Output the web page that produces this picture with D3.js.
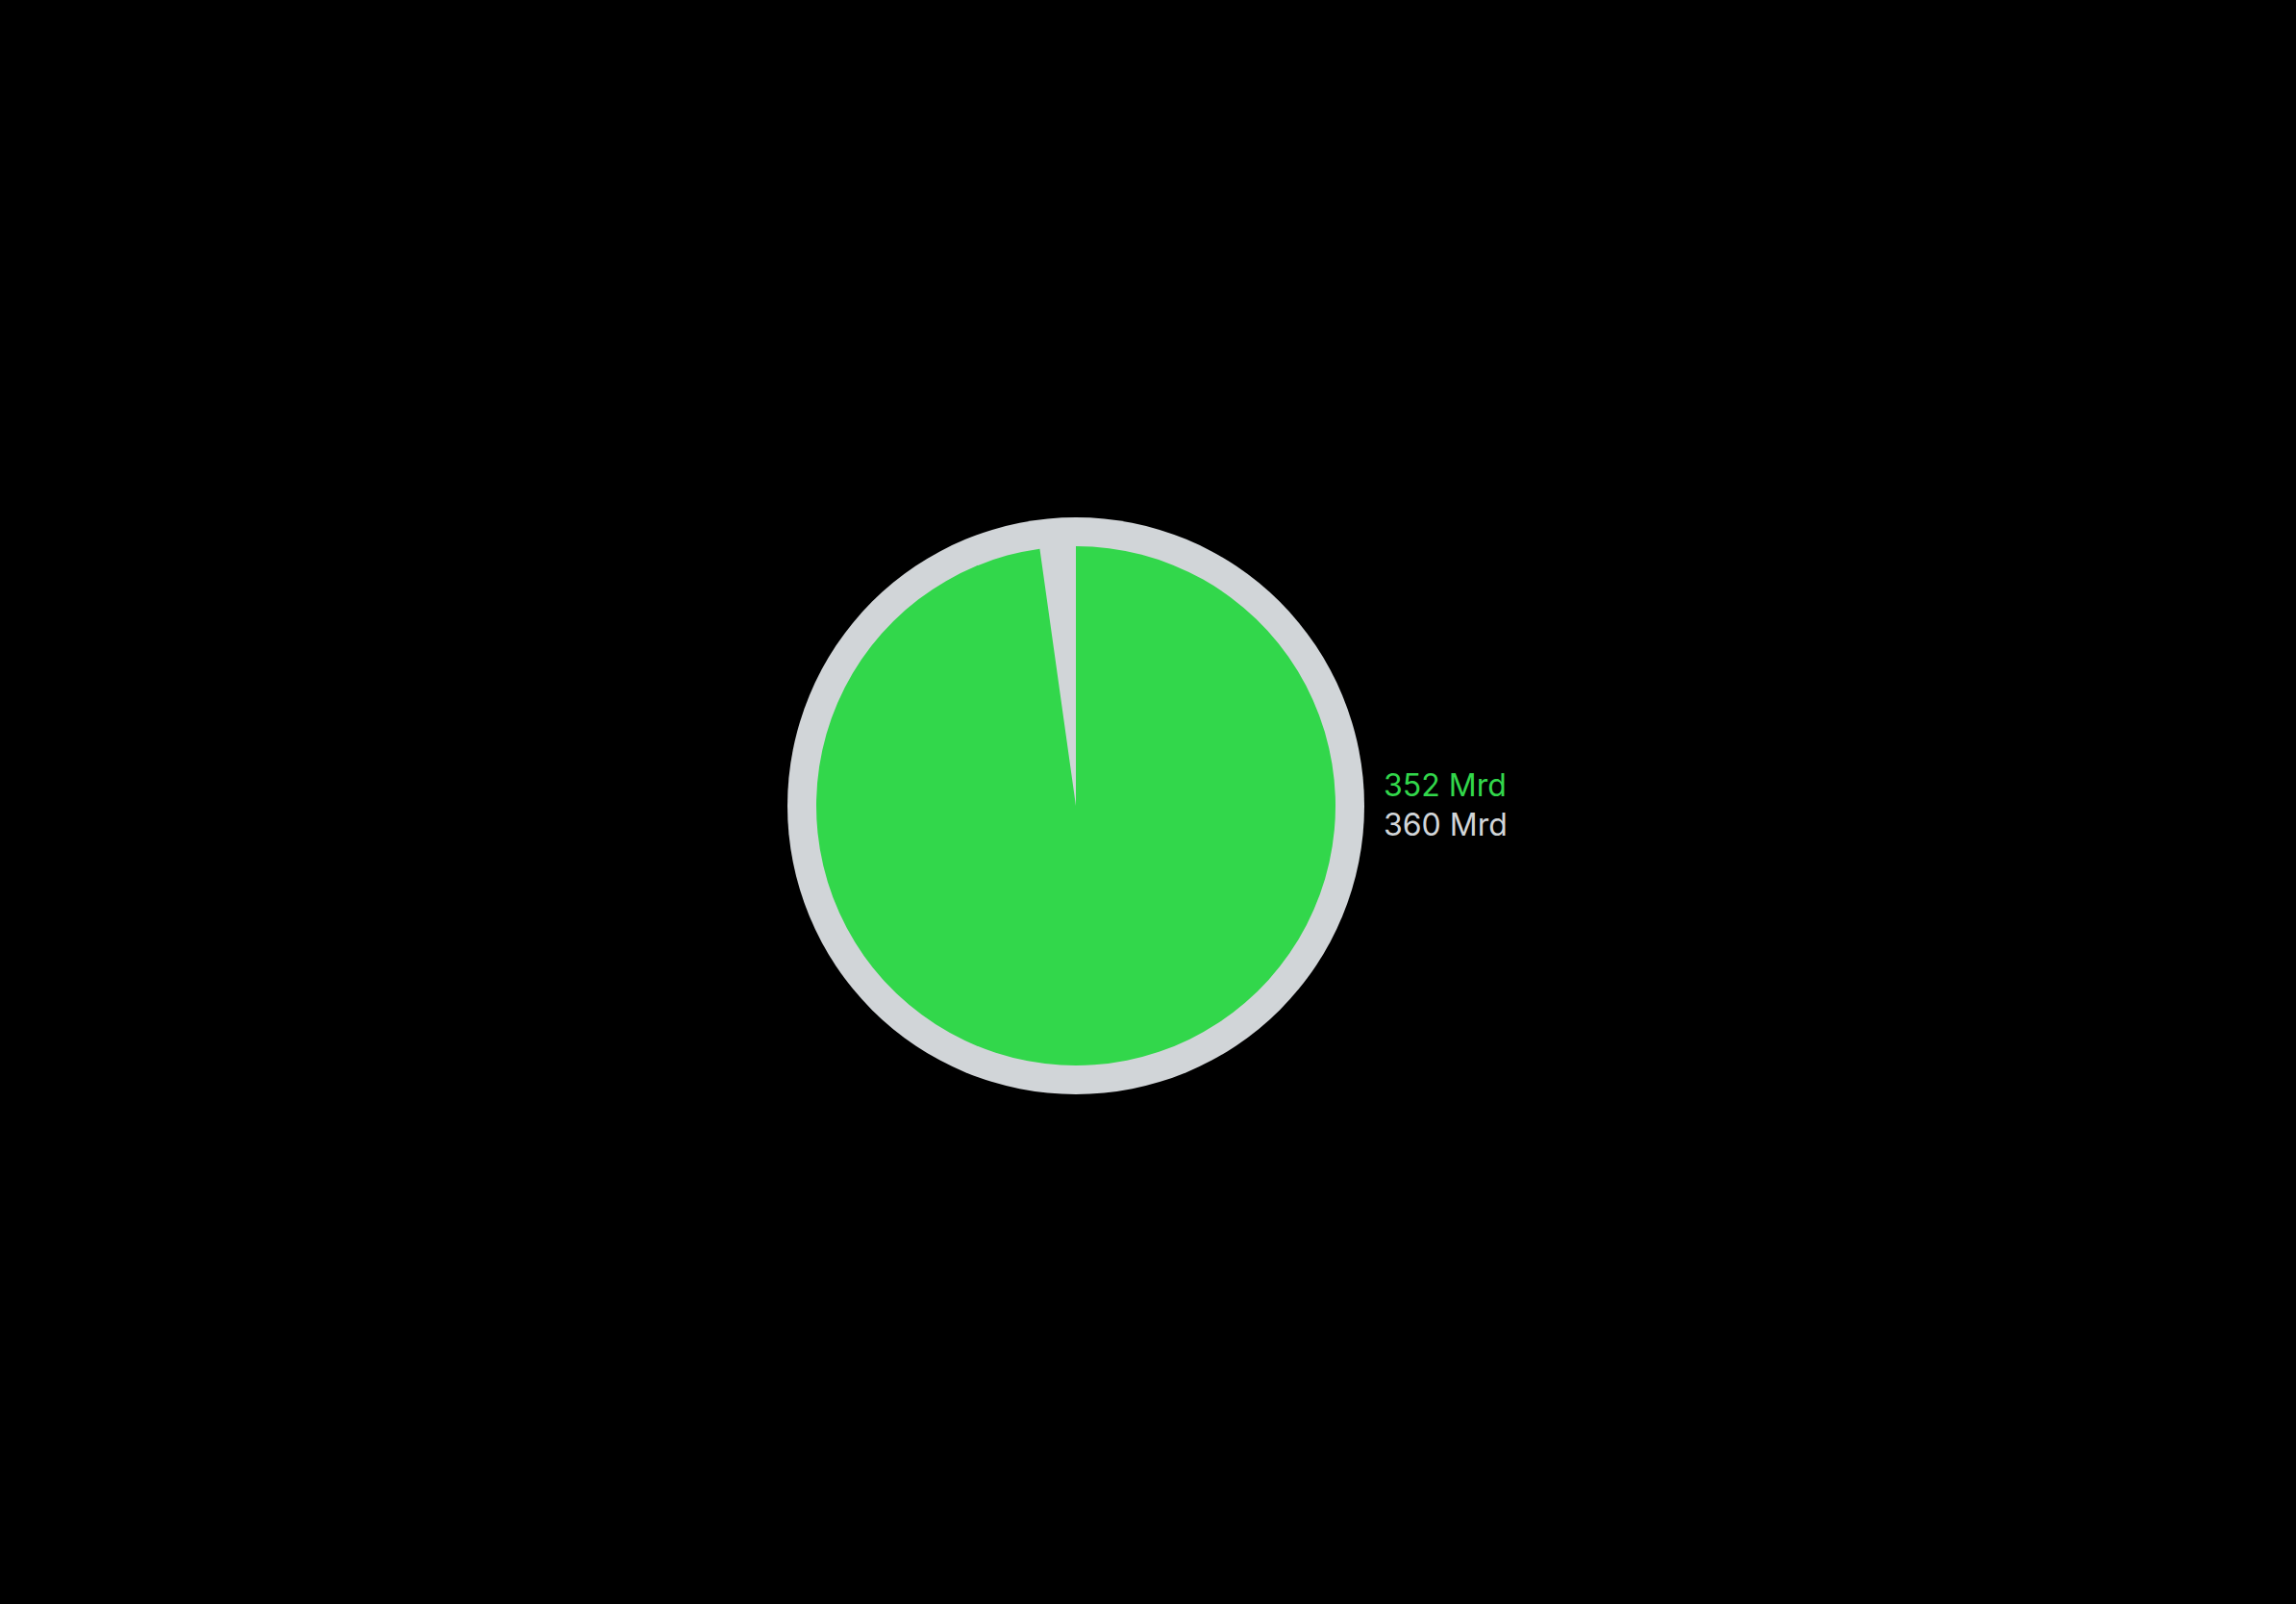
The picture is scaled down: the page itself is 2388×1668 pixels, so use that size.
<!DOCTYPE html>
<html>
<head>
<meta charset="utf-8">
<script src="https://cdn.jsdelivr.net/npm/d3@7"></script>
<style>
  html, body { margin: 0; padding: 0; background: #000; }
  svg { display: block; }
  text { font-family: Inter, "Noto Sans", sans-serif; }
</style>
</head>
<body>
<svg id="chart" width="2388" height="1668"></svg>
<script>
const seriesNames = ["Ist", "Gesamt"];
const seriesValues = [352, 360];
const seriesLabels = ["352 Mrd", "360 Mrd"];
const seriesColors = ["#32D74B", "#D1D5D8"];

const W = 2388, H = 1668;
const cx = 1119, cy = 838;
const outerR = 300, innerR = 270;

const svg = d3.select("#chart");
svg.append("rect").attr("width", W).attr("height", H).attr("fill", "#000");

const g = svg.append("g").attr("transform", `translate(${cx},${cy})`);

// full ring (total)
const total = seriesValues[1];
const angle = d3.scaleLinear().domain([0, total]).range([0, 2 * Math.PI]);

g.append("path")
  .attr("d", d3.arc().innerRadius(0).outerRadius(outerR)({startAngle: 0, endAngle: angle(total)}))
  .attr("fill", seriesColors[1]);

// value slice
g.append("path")
  .attr("d", d3.arc().innerRadius(0).outerRadius(innerR)({startAngle: angle(0), endAngle: angle(seriesValues[0])}))
  .attr("fill", seriesColors[0]);

// labels
const lab = svg.append("g").attr("transform", `translate(${cx + outerR + 20},${cy})`);
const y = d3.scalePoint().domain(seriesNames).range([-10, 31]);
lab.selectAll("text").data(seriesNames).join("text")
  .attr("x", 0)
  .attr("y", d => y(d))
  .attr("font-size", 32)
  .attr("fill", (d, i) => seriesColors[i])
  .text((d, i) => seriesLabels[i]);
</script>
</body>
</html>
